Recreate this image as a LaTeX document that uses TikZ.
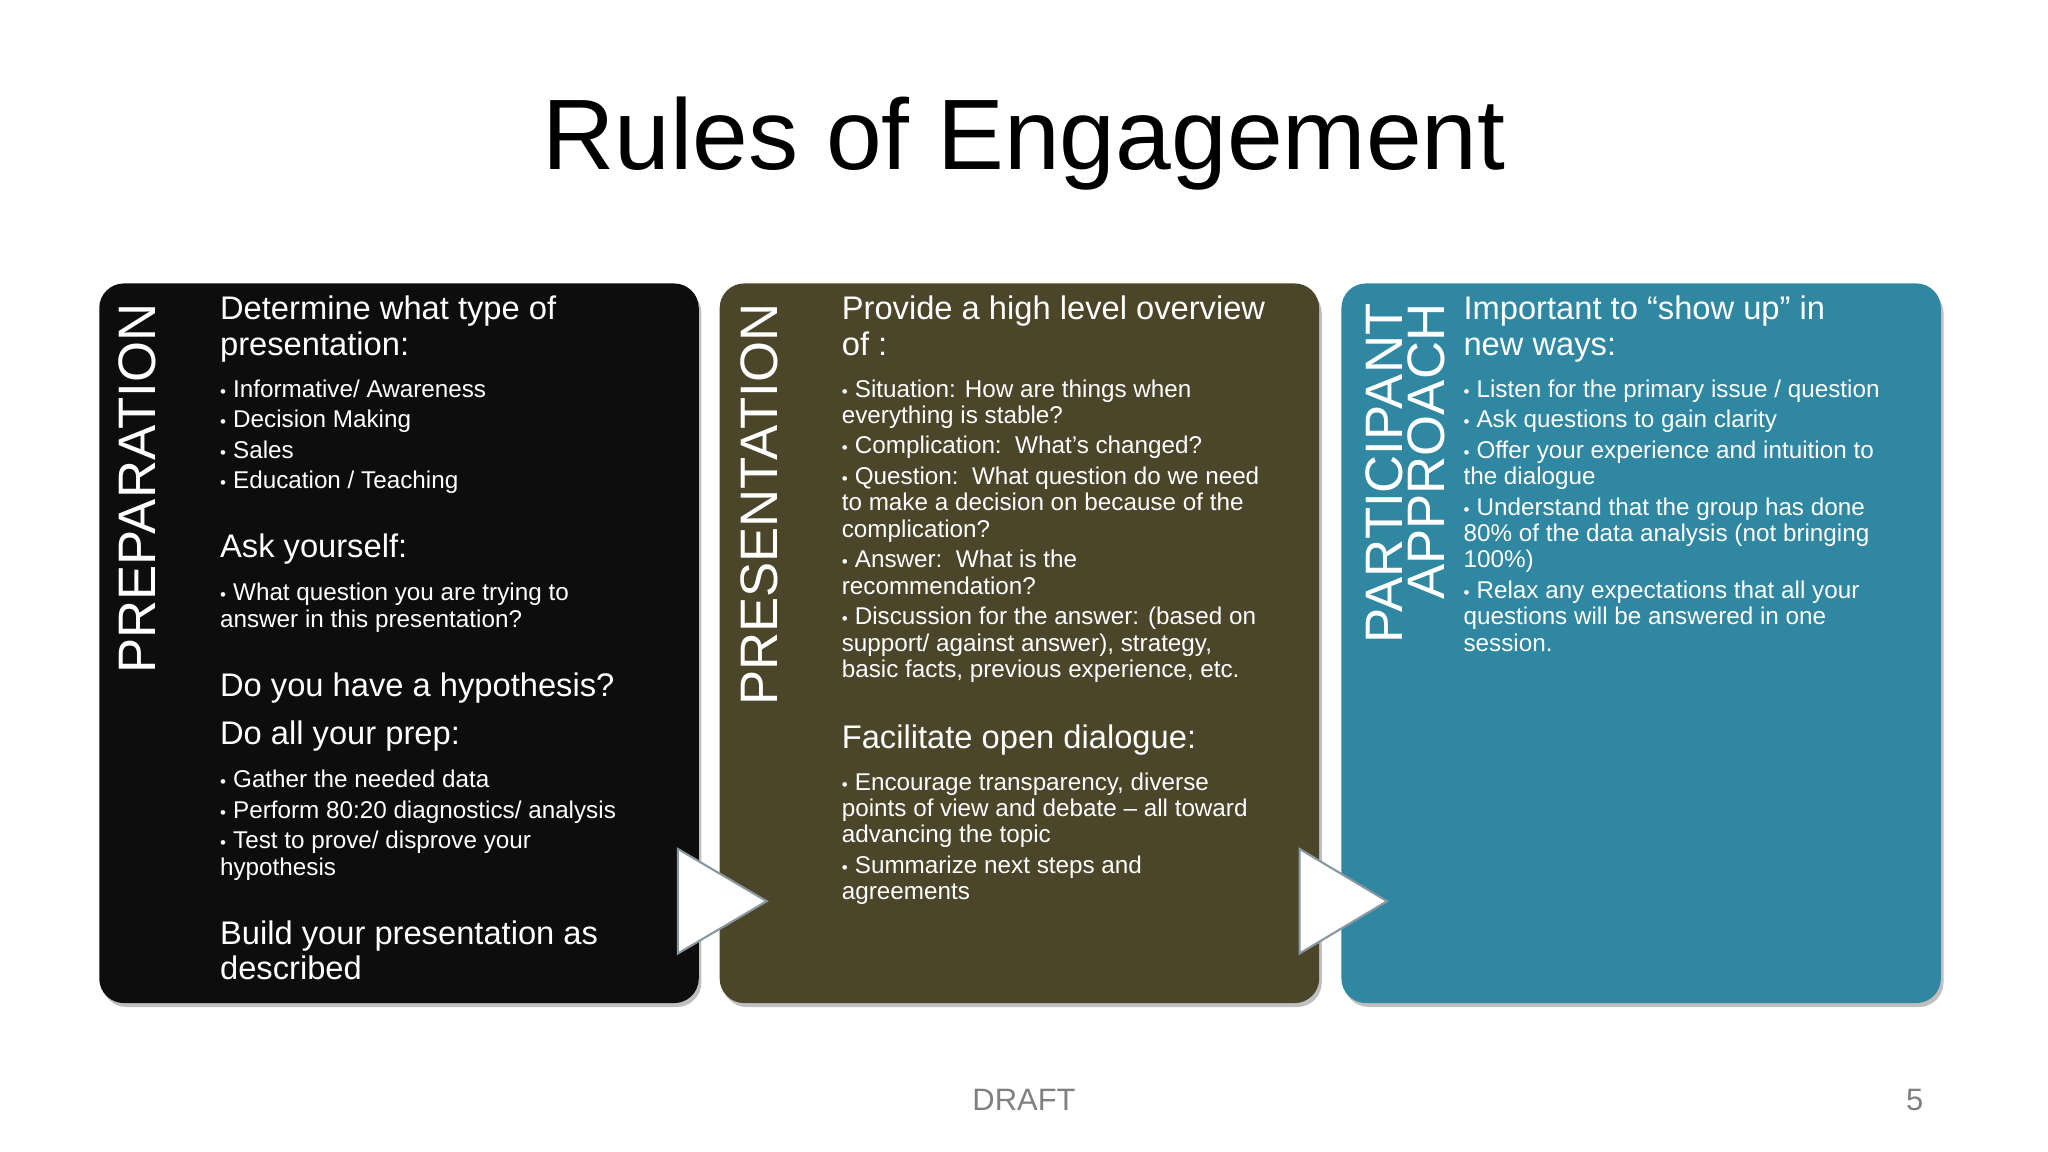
\documentclass[tikz,border=0pt]{standalone}
\usepackage{fontspec}
\setmainfont{Liberation Sans}
\definecolor{pblack}{HTML}{0D0D0D}
\definecolor{polive}{HTML}{4B4529}
\definecolor{pteal}{HTML}{2F87A1}
\newcommand\blst[2]{\parbox[t]{#1}{\fontsize{6.9}{7.5}\selectfont\setlength\parskip{1.2pt}\raggedright #2}}
\newcommand\itm{\par\hangindent=3.7pt\hangafter=1\noindent\makebox[3.7pt][l]{\scalebox{0.7}{\textbullet}}}
\newcommand\hdg[1]{\parbox[t]{130pt}{\fontsize{9.3}{10}\selectfont\raggedright #1}}
\begin{document}
\begin{tikzpicture}[x=0.01306cm,y=-0.01306cm,
  panel/.style={rounded corners=7pt,draw=none},
  shad/.style={rounded corners=7pt,fill=black!25},
  txt/.style={anchor=base west,inner sep=0pt,text=white},
  vlab/.style={rotate=90,anchor=east,inner sep=0pt,text=white,font=\fontsize{15}{15}\selectfont,align=right},
  tri/.style={fill=white,draw=gray!60!cyan!40!gray,line width=0.6pt}]
\useasboundingbox (0,0) rectangle (1568,882);
\node (title) at (784,110) {\fontsize{28.5}{30}\selectfont Rules of Engagement};
% panels
\fill[shad] (78,221) rectangle (537,771);
\fill[shad] (553,221) rectangle (1012,771);
\fill[shad] (1029,221) rectangle (1488,771);
\fill[panel,fill=pblack] (76,217) rectangle (535,768);
\fill[panel,fill=polive] (551,217) rectangle (1010,768);
\fill[panel,fill=pteal] (1027,217) rectangle (1486,768);
% vertical labels
\node[vlab] (l1) at (105,232) {PREPARATION};
\node[vlab] (l2) at (581,232) {PRESENTATION};
\node[vlab] (l3) at (1076,232) {PARTICIPANT\\[-3pt]APPROACH};
% panel 1
\node[txt] (h1) at (168,245) {\hdg{Determine what type of\\presentation:}};
\node[txt] (b1) at (168,304) {\blst{140pt}{\itm Informative/ Awareness\itm Decision Making\itm Sales\itm Education / Teaching}};
\node[txt] (h2) at (168,427) {\hdg{Ask yourself:}};
\node[txt] (b2) at (168,460) {\blst{140pt}{\itm What question you are trying to\\answer in this presentation?}};
\node[txt] (h3) at (168,533) {\hdg{Do you have a hypothesis?}};
\node[txt] (h4) at (168,570) {\hdg{Do all your prep:}};
\node[txt] (b3) at (168,603) {\blst{140pt}{\itm Gather the needed data\itm Perform 80:20 diagnostics/ analysis\itm Test to prove/ disprove your\\hypothesis}};
\node[txt] (h5) at (168,723) {\hdg{Build your presentation as\\described}};
% panel 2
\node[txt] (h6) at (644,245) {\hdg{Provide a high level overview\\of :}};
\node[txt] (b4) at (644,304) {\blst{140pt}{\itm Situation: How are things when\\everything is stable?\itm Complication:\ \ What’s changed?\itm Question:\ \ What question do we need\\to make a decision on because of the\\complication?\itm Answer:\ \ What is the\\recommendation?\itm Discussion for the answer: (based on\\support/ against answer), strategy,\\basic facts, previous experience, etc.}};
\node[txt] (h7) at (644,573) {\hdg{Facilitate open dialogue:}};
\node[txt] (b5) at (644,605) {\blst{140pt}{\itm Encourage transparency, diverse\\points of view and debate -- all toward\\advancing the topic\itm Summarize next steps and\\agreements}};
% panel 3
\node[txt] (h8) at (1120,245) {\hdg{Important to “show up” in\\new ways:}};
\node[txt] (b6) at (1120,304) {\blst{140pt}{\itm Listen for the primary issue / question\itm Ask questions to gain clarity\itm Offer your experience and intuition to\\the dialogue\itm Understand that the group has done\\80\% of the data analysis (not bringing\\100\%)\itm Relax any expectations that all your\\questions will be answered in one\\session.}};
% arrows
\draw[tri] (519,650) -- (587,690) -- (519,730) -- cycle;
\draw[tri] (995,650) -- (1062,690) -- (995,730) -- cycle;
% footer
\node[text=gray] (draft) at (784,842) {\fontsize{8.8}{9}\selectfont DRAFT};
\node[text=gray] (num) at (1466,842) {\fontsize{8.8}{9}\selectfont 5};
\end{tikzpicture}
\end{document}
